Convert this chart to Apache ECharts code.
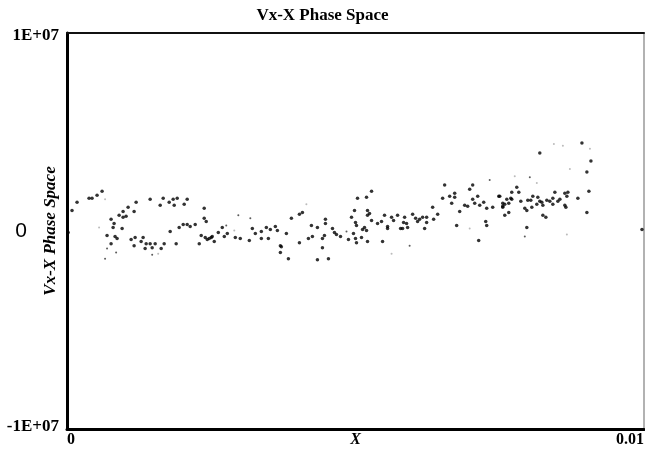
<!DOCTYPE html>
<html>
<head>
<meta charset="utf-8">
<script src="https://cdn.jsdelivr.net/npm/echarts@6/dist/echarts.min.js"></script>
<style>
  html, body { margin: 0; padding: 0; background: #fff; }
  #chart { width: 645px; height: 450px; }
</style>
</head>
<body>
<div id="chart"></div>
<script>
var chartTitle = "Vx-X Phase Space";
var xName = "X";
var yName = "Vx-X Phase Space";
var xMin = 0, xMax = 0.01;
var yMin = -1e7, yMax = 1e7;

// [x, Vx]
var darkPoints = [
  [0.02e-3,-0.08e6],[0.087e-3,1.04e6],[0.174e-3,1.45e6],[0.382e-3,1.65e6],[0.434e-3,1.65e6],
  [0.521e-3,1.81e6],[0.608e-3,2.01e6],[1.198e-3,1.45e6],[1.615e-3,1.30e6],[1.840e-3,1.60e6],
  [1.910e-3,1.65e6],[2.083e-3,1.60e6],[2.031e-3,1.35e6],[1.059e-3,1.20e6],[0.972e-3,0.99e6],
  [0.903e-3,0.79e6],[1.024e-3,0.74e6],[0.972e-3,0.69e6],[1.163e-3,0.99e6],[0.764e-3,0.59e6],
  [0.816e-3,0.38e6],[0.799e-3,0.18e6],[0.694e-3,-0.23e6],[0.833e-3,-0.28e6],[0.868e-3,-0.38e6],
  [0.764e-3,-0.64e6],[0.955e-3,0.13e6],[1.111e-3,-0.43e6],[1.181e-3,-0.33e6],[1.319e-3,-0.33e6],
  [1.285e-3,-0.53e6],[1.163e-3,-0.74e6],[1.354e-3,-0.89e6],[1.372e-3,-0.64e6],[1.441e-3,-0.64e6],
  [1.476e-3,-0.84e6],[1.528e-3,-0.64e6],[1.632e-3,-0.89e6],[1.684e-3,-0.64e6],[1.788e-3,-0.03e6],
  [1.892e-3,-0.64e6],[1.944e-3,0.18e6],[2.014e-3,0.33e6],[2.083e-3,0.33e6],[2.135e-3,0.23e6],
  [2.222e-3,0.33e6],[2.378e-3,1.15e6],[2.378e-3,0.64e6],[2.413e-3,0.48e6],[2.326e-3,-0.23e6],
  [2.396e-3,-0.33e6],[2.431e-3,-0.43e6],[2.500e-3,-0.33e6],[2.292e-3,-0.64e6],[1.858e-3,1.30e6],
  [1.441e-3,1.60e6],[1.667e-3,1.65e6],[1.771e-3,1.45e6],[2.465e-3,-0.38e6],[2.517e-3,-0.28e6],
  [2.552e-3,-0.53e6],[2.622e-3,-0.08e6],[2.691e-3,0.18e6],[2.726e-3,-0.28e6],[2.778e-3,-0.13e6],
  [2.917e-3,-0.33e6],[3.003e-3,-0.38e6],[3.160e-3,-0.48e6],[3.212e-3,0.13e6],[3.264e-3,-0.13e6],
  [3.368e-3,-0.03e6],[3.368e-3,-0.38e6],[3.455e-3,0.18e6],[3.524e-3,0.08e6],[3.490e-3,-0.38e6],
  [3.611e-3,0.23e6],[3.646e-3,0.03e6],[3.802e-3,-0.13e6],[3.698e-3,-0.74e6],[3.715e-3,-0.79e6],
  [3.698e-3,-1.09e6],[3.837e-3,-1.40e6],[4.028e-3,0.84e6],[4.080e-3,0.94e6],[4.028e-3,-0.59e6],
  [4.184e-3,-0.38e6],[4.253e-3,-0.28e6],[4.236e-3,0.28e6],[4.340e-3,0.18e6],[4.427e-3,-0.38e6],
  [4.462e-3,-0.23e6],[4.479e-3,0.38e6],[4.479e-3,0.59e6],[4.427e-3,-0.84e6],[4.340e-3,-1.45e6],
  [4.531e-3,-1.40e6],[4.601e-3,0.13e6],[4.635e-3,-0.08e6],[4.670e-3,-0.18e6],[4.740e-3,-0.28e6],
  [4.878e-3,-0.43e6],[4.931e-3,0.69e6],[4.983e-3,1.04e6],[5.000e-3,0.43e6],[5.017e-3,0.28e6],
  [4.965e-3,-0.13e6],[5.000e-3,-0.38e6],[5.017e-3,-0.59e6],[5.035e-3,1.65e6],[3.889e-3,0.64e6],
  [5.191e-3,1.70e6],[5.278e-3,2.01e6],[5.208e-3,1.04e6],[5.208e-3,0.79e6],[5.243e-3,0.89e6],
  [5.122e-3,0.08e6],[5.156e-3,0.18e6],[5.191e-3,0.03e6],[5.104e-3,-0.33e6],[5.208e-3,-0.53e6],
  [5.278e-3,0.53e6],[5.382e-3,0.38e6],[5.451e-3,0.48e6],[5.503e-3,0.79e6],[5.556e-3,0.23e6],
  [5.556e-3,0.13e6],[5.625e-3,0.69e6],[5.660e-3,0.53e6],[5.729e-3,0.79e6],[5.851e-3,0.69e6],
  [5.833e-3,0.43e6],[5.885e-3,0.38e6],[5.781e-3,0.13e6],[5.816e-3,0.13e6],[5.903e-3,0.18e6],
  [5.990e-3,0.84e6],[6.042e-3,0.64e6],[6.076e-3,0.48e6],[6.111e-3,0.59e6],[6.163e-3,0.69e6],
  [6.233e-3,0.69e6],[6.233e-3,0.43e6],[6.198e-3,0.13e6],[6.337e-3,1.20e6],[6.354e-3,0.59e6],
  [6.424e-3,0.84e6],[5.469e-3,-0.53e6],[6.545e-3,2.32e6],[6.510e-3,1.65e6],[6.632e-3,1.76e6],
  [6.719e-3,1.91e6],[6.719e-3,1.70e6],[6.667e-3,1.40e6],[6.753e-3,0.28e6],[6.806e-3,0.99e6],
  [6.892e-3,1.30e6],[6.944e-3,1.25e6],[6.979e-3,2.11e6],[7.031e-3,2.32e6],[7.031e-3,1.60e6],
  [7.066e-3,1.40e6],[7.118e-3,1.76e6],[7.153e-3,1.30e6],[7.222e-3,1.45e6],[7.274e-3,1.15e6],
  [7.257e-3,0.48e6],[7.274e-3,0.28e6],[7.378e-3,1.20e6],[7.483e-3,1.76e6],[7.552e-3,1.20e6],
  [7.135e-3,-0.48e6],[8.924e-3,4.45e6],[8.194e-3,3.94e6],[9.080e-3,3.54e6],[9.010e-3,2.98e6],
  [7.795e-3,2.21e6],[7.708e-3,1.96e6],[7.830e-3,1.96e6],[7.500e-3,1.76e6],[7.622e-3,1.60e6],
  [7.691e-3,1.65e6],[7.708e-3,1.60e6],[7.552e-3,1.40e6],[7.587e-3,1.35e6],[7.552e-3,1.25e6],
  [7.656e-3,1.40e6],[7.656e-3,0.94e6],[7.587e-3,0.79e6],[7.865e-3,1.50e6],[7.986e-3,1.55e6],
  [8.038e-3,1.55e6],[8.073e-3,1.76e6],[8.160e-3,1.70e6],[8.194e-3,1.50e6],[8.229e-3,1.45e6],
  [8.247e-3,1.30e6],[8.142e-3,1.35e6],[7.934e-3,1.15e6],[7.969e-3,1.04e6],[8.056e-3,1.20e6],
  [8.316e-3,1.55e6],[8.368e-3,1.50e6],[8.420e-3,1.65e6],[8.455e-3,1.96e6],[8.420e-3,1.35e6],
  [8.507e-3,1.50e6],[8.542e-3,1.60e6],[8.628e-3,1.91e6],[8.681e-3,1.96e6],[8.663e-3,1.76e6],
  [8.628e-3,1.30e6],[8.646e-3,1.20e6],[8.854e-3,1.65e6],[9.045e-3,2.01e6],[9.010e-3,0.94e6],
  [8.247e-3,0.79e6],[8.299e-3,0.69e6],[7.969e-3,0.18e6],[9.965e-3,0.08e6]
];

var smallPoints = [
  [0.694e-3,-0.89e6],[0.851e-3,-1.09e6],[0.660e-3,-1.40e6],[1.476e-3,-1.20e6],[2.760e-3,0.28e6],
  [2.969e-3,0.79e6],[3.177e-3,0.64e6],[4.844e-3,-0.03e6],[5.938e-3,-0.74e6],[7.326e-3,2.57e6],
  [8.021e-3,2.72e6],[7.934e-3,-0.28e6]
];

var faintPoints = [
  [0.556e-3,0.18e6],[0.660e-3,1.60e6],[4.149e-3,1.35e6],[8.438e-3,4.40e6],[8.594e-3,4.30e6],
  [9.063e-3,4.15e6],[8.715e-3,3.13e6],[7.760e-3,2.77e6],[8.142e-3,2.42e6],[8.663e-3,-0.18e6],
  [5.625e-3,-1.15e6],[6.979e-3,0.13e6],[1.580e-3,-1.15e6],[2.899e-3,0.03e6]
];

var serif = '"Liberation Serif", "Times New Roman", serif';

var chart = echarts.init(document.getElementById('chart'));
chart.setOption({
    animation: false,
    backgroundColor: '#fff',
    title: {
        text: chartTitle,
        left: 'center',
        top: 2,
        textStyle: { fontFamily: serif, fontWeight: 'bold', fontSize: 17, color: '#000' }
    },
    grid: { left: 67, right: 1, top: 33, bottom: 21, containLabel: false, outerBoundsMode: 'none' },
    xAxis: [{
        type: 'value',
        min: xMin, max: xMax, interval: 0.01,
        name: xName,
        nameLocation: 'middle',
        nameGap: 3,
        nameMoveOverlap: false,
        nameTextStyle: { fontFamily: serif, fontWeight: 'bold', fontStyle: 'italic', fontSize: 16, color: '#000', verticalAlign: 'top' },
        axisLine: { onZero: false, lineStyle: { color: '#000', width: 3 } },
        axisTick: { show: false },
        splitLine: { show: false },
        axisLabel: {
            margin: 3,
            fontFamily: serif, fontWeight: 'bold', fontSize: 16, color: '#000',
            alignMinLabel: 'left', alignMaxLabel: 'right',
            formatter: function(v) { return v === 0 ? '0' : '0.01'; }
        }
    }, {
        type: 'value', position: 'top',
        min: xMin, max: xMax,
        axisLine: { onZero: false, lineStyle: { color: '#111', width: 2 } },
        axisTick: { show: false }, axisLabel: { show: false }, splitLine: { show: false }
    }],
    yAxis: [{
        type: 'value',
        min: yMin, max: yMax, interval: 1e7,
        name: yName,
        nameLocation: 'middle',
        nameGap: 8,
        nameMoveOverlap: false,
        nameTextStyle: { fontFamily: serif, fontWeight: 'bold', fontStyle: 'italic', fontSize: 17, color: '#000' },
        axisLine: { onZero: false, lineStyle: { color: '#000', width: 3 } },
        axisTick: { show: false },
        splitLine: { show: false },
        axisLabel: {
            margin: 8,
            formatter: function(v) {
                if (v === 0) return '{z|0}';
                return v > 0 ? '{t|1E+07}' : '{b|-1E+07}';
            },
            rich: {
                z: { fontFamily: '"Liberation Sans", Arial, sans-serif', fontSize: 21, color: '#000', padding: [0, 32, 0, 0] },
                t: { fontFamily: serif, fontWeight: 'bold', fontSize: 17, color: '#000', padding: [5, 0, 0, 0] },
                b: { fontFamily: serif, fontWeight: 'bold', fontSize: 17, color: '#000', padding: [0, 0, 5, 0] }
            }
        }
    }, {
        type: 'value', position: 'right',
        min: yMin, max: yMax,
        axisLine: { show: true, onZero: false, lineStyle: { color: '#999', width: 1.5 } },
        axisTick: { show: false }, axisLabel: { show: false }, splitLine: { show: false }
    }],
    series: [{
        type: 'scatter',
        data: faintPoints,
        symbolSize: 2,
        itemStyle: { color: '#aaa' }
    }, {
        type: 'scatter',
        data: smallPoints,
        symbolSize: 2,
        itemStyle: { color: '#333' }
    }, {
        type: 'scatter',
        data: darkPoints,
        symbolSize: 3.5,
        itemStyle: { color: '#000' }
    }]
});
</script>
</body>
</html>
